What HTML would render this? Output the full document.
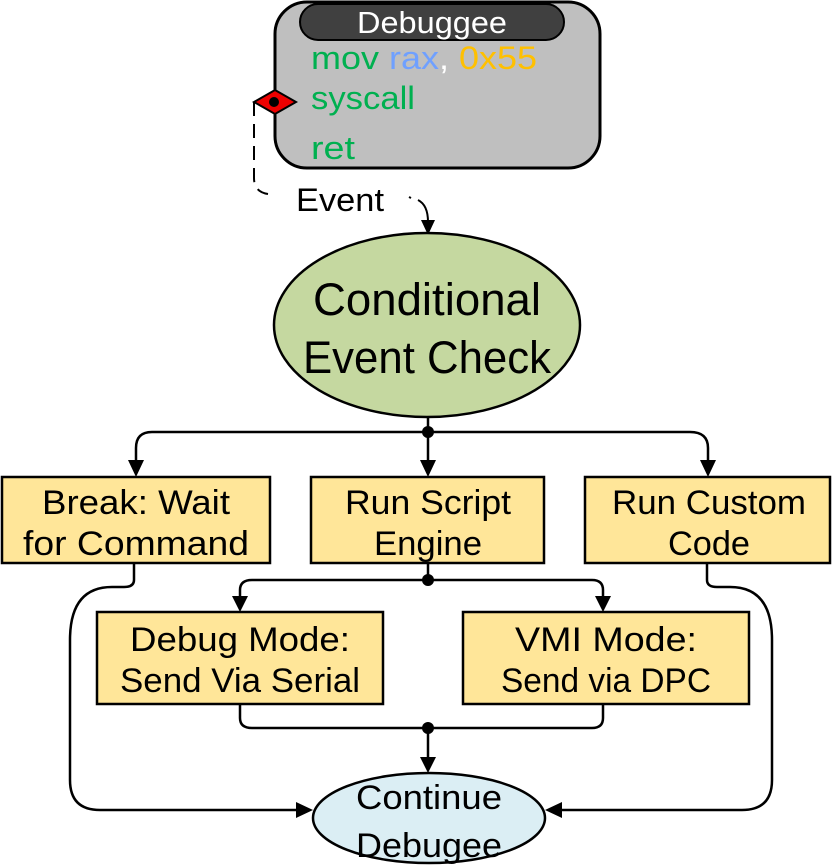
<!DOCTYPE html>
<html><head><meta charset="utf-8"><style>
html,body{margin:0;padding:0;background:#fff;}
svg{display:block;}
text{font-family:"Liberation Sans",sans-serif;}
</style></head><body>
<svg width="832" height="865" viewBox="0 0 832 865" xmlns="http://www.w3.org/2000/svg">
<!-- Debuggee -->
<rect x="275" y="2" width="325" height="166" rx="32" fill="#bfbfbf" stroke="#000" stroke-width="3"/>
<rect x="300" y="4" width="264" height="36" rx="18" fill="#404040" stroke="#000" stroke-width="2"/>
<text x="432" y="33" font-size="31" fill="#fff" text-anchor="middle" textLength="150" lengthAdjust="spacingAndGlyphs">Debuggee</text>
<text x="311" y="69" font-size="32" textLength="226" lengthAdjust="spacingAndGlyphs"><tspan fill="#00b050">mov </tspan><tspan fill="#6fa0ff">rax</tspan><tspan fill="#fff">, </tspan><tspan fill="#ffc000">0x55</tspan></text>
<text x="311" y="109" font-size="32" fill="#00b050" textLength="104" lengthAdjust="spacingAndGlyphs">syscall</text>
<text x="311" y="159" font-size="32" fill="#00b050" textLength="44" lengthAdjust="spacingAndGlyphs">ret</text>
<!-- diamond -->
<path d="M254,102 L275,90 L296,102 L275,114 z" fill="#e00" stroke="#000" stroke-width="2"/>
<circle cx="274" cy="102" r="5" fill="#000"/>
<!-- dashed event line -->
<path d="M254,102 L254,178 Q254,192 268,194" fill="none" stroke="#000" stroke-width="2" stroke-dasharray="14,8"/>
<text x="296" y="211" font-size="32" fill="#000" textLength="88" lengthAdjust="spacingAndGlyphs">Event</text>
<path d="M409,197 L411,198" stroke="#000" stroke-width="2"/>
<path d="M418,200 Q428,205 428,222" fill="none" stroke="#000" stroke-width="2"/>
<path d="M421,220 L435,220 L428,235 z" fill="#000"/>
<!-- Conditional -->
<ellipse cx="427" cy="325" rx="153" ry="92" fill="#c5d8a0" stroke="#000" stroke-width="2.5"/>
<text x="427" y="315" font-size="45" text-anchor="middle" textLength="228" lengthAdjust="spacingAndGlyphs">Conditional</text>
<text x="427" y="373" font-size="45" text-anchor="middle" textLength="248" lengthAdjust="spacingAndGlyphs">Event Check</text>
<!-- branch 1 -->
<path d="M428,417 L428,432" stroke="#000" stroke-width="2.5"/>
<path d="M136,462 L136,448 Q136,432 152,432 L690,432 Q708,432 708,448 L708,462" fill="none" stroke="#000" stroke-width="2.5"/>
<path d="M428,432 L428,462" stroke="#000" stroke-width="2.5"/>
<circle cx="428" cy="432" r="6" fill="#000"/>
<path d="M128,460 L144,460 L136,477 z M420,460 L436,460 L428,477 z M700,460 L716,460 L708,477 z" fill="#000"/>
<!-- boxes -->
<g fill="#ffe699" stroke="#000" stroke-width="2.5">
<rect x="2" y="477" width="268" height="86"/>
<rect x="311" y="477" width="233" height="86"/>
<rect x="585" y="477" width="245" height="86"/>
<rect x="97" y="612" width="286" height="92"/>
<rect x="463" y="612" width="286" height="92"/>
</g>
<g font-size="34" text-anchor="middle">
<text x="136" y="514" textLength="188" lengthAdjust="spacingAndGlyphs">Break: Wait</text>
<text x="136" y="555" textLength="226" lengthAdjust="spacingAndGlyphs">for Command</text>
<text x="428" y="514" textLength="166" lengthAdjust="spacingAndGlyphs">Run Script</text>
<text x="428" y="555" textLength="108" lengthAdjust="spacingAndGlyphs">Engine</text>
<text x="709" y="514" textLength="194" lengthAdjust="spacingAndGlyphs">Run Custom</text>
<text x="709" y="555" textLength="82" lengthAdjust="spacingAndGlyphs">Code</text>
<text x="240" y="651" textLength="220" lengthAdjust="spacingAndGlyphs">Debug Mode:</text>
<text x="240" y="692" textLength="240" lengthAdjust="spacingAndGlyphs">Send Via Serial</text>
<text x="606" y="651" textLength="182" lengthAdjust="spacingAndGlyphs">VMI Mode:</text>
<text x="606" y="692" textLength="210" lengthAdjust="spacingAndGlyphs">Send via DPC</text>
</g>
<!-- branch 2 -->
<path d="M428,563 L428,580" stroke="#000" stroke-width="2.5"/>
<path d="M240,598 L240,590 Q240,580 252,580 L592,580 Q603,580 603,590 L603,598" fill="none" stroke="#000" stroke-width="2.5"/>
<circle cx="428" cy="580" r="6" fill="#000"/>
<path d="M232,596 L248,596 L240,612 z M595,596 L611,596 L603,612 z" fill="#000"/>
<!-- merge -->
<path d="M240,704 L240,718 Q240,728 252,728 L592,728 Q603,728 603,718 L603,704" fill="none" stroke="#000" stroke-width="2.5"/>
<path d="M428,728 L428,758" stroke="#000" stroke-width="2.5"/>
<circle cx="428" cy="728" r="6" fill="#000"/>
<path d="M420,757 L436,757 L428,773 z" fill="#000"/>
<!-- side lines -->
<path d="M134,563 L134,580 Q134,587 124,587 L112,587 Q70,587 70,640 L70,780 Q70,810 100,810 L298,810" fill="none" stroke="#000" stroke-width="2.5"/>
<path d="M296,802 L313,810 L296,818 z" fill="#000"/>
<path d="M707,563 L707,580 Q707,587 717,587 L730,587 Q772,587 772,640 L772,780 Q772,810 742,810 L560,810" fill="none" stroke="#000" stroke-width="2.5"/>
<path d="M562,802 L545,810 L562,818 z" fill="#000"/>
<!-- Continue -->
<ellipse cx="429" cy="818" rx="116" ry="45" fill="#dbeef4" stroke="#000" stroke-width="2.5"/>
<text x="429" y="809" font-size="34" text-anchor="middle" textLength="146" lengthAdjust="spacingAndGlyphs">Continue</text>
<text x="429" y="857" font-size="34" text-anchor="middle" textLength="146" lengthAdjust="spacingAndGlyphs">Debugee</text>
</svg>
</body></html>
